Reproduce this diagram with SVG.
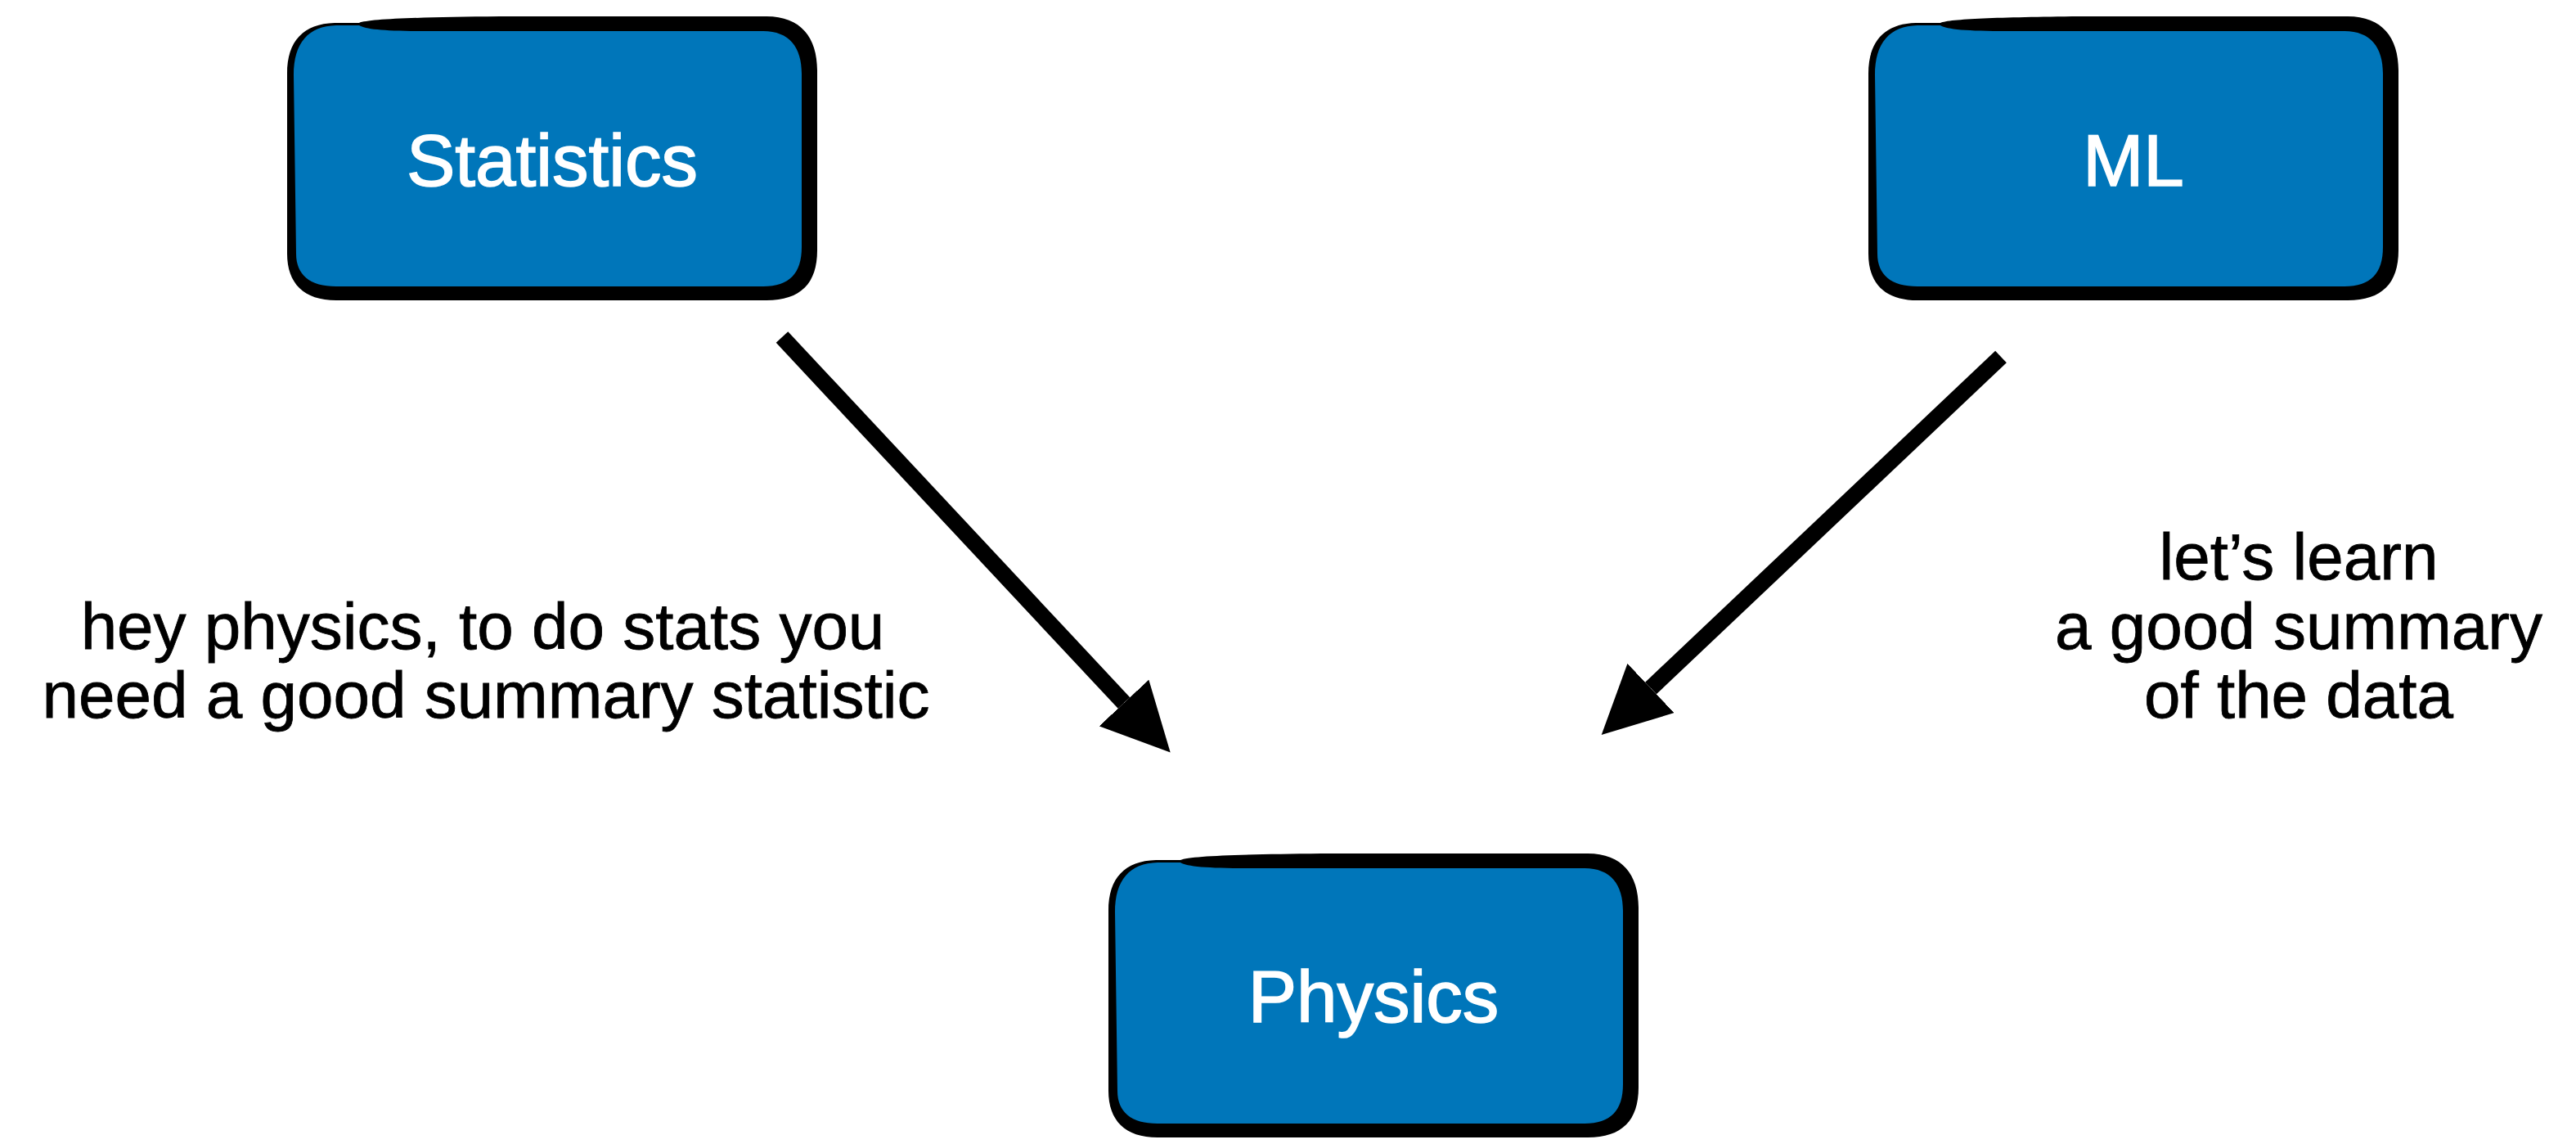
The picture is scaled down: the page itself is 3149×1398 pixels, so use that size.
<svg xmlns="http://www.w3.org/2000/svg" xmlns:xlink="http://www.w3.org/1999/xlink" width="3149" height="1398" viewBox="0 0 3149 1398">
  <style>
    .outline { fill: #000000; }
    .fill { fill: #0076BA; }
    .nodeText { font-family: "Liberation Sans", Arial, sans-serif; font-size: 89px; fill: #ffffff; stroke: #ffffff; stroke-width: 1.6; text-anchor: middle; }
    .label { font-family: "Liberation Sans", Arial, sans-serif; font-size: 80px; fill: #000000; stroke: #000000; stroke-width: 0.8; text-anchor: middle; }
    .edge { fill: none; stroke: #000000; stroke-width: 20; stroke-linecap: butt; marker-end: url(#head); }
  </style>
  <defs>
    <marker id="head" viewBox="0 0 83 83" refX="0" refY="41.5" markerWidth="83" markerHeight="83" markerUnits="userSpaceOnUse" orient="auto">
      <path d="M0,0 L83,41.5 L0,83 Z" fill="#000000"/>
    </marker>
    <g id="boxShape">
      <path class="outline" d="M 0,290 L 0,70 C 0,30 20,9 58,8 L 88,8 C 100,3 160,1 260,0 L 586,0 C 628,0 648,26 648,66 L 648,286 C 648,326 628,347 586,347 L 60,347 C 20,347 0,326 0,290 Z"/>
      <path class="fill" d="M 11,290 L 8,72 C 8,32 26,12 60,11 L 88,11 C 96,16 120,18 170,18 L 582,18 C 614,18 629,38 629,70 L 629,282 C 629,314 614,330 582,330 L 60,330 C 28,330 11,316 11,290 Z"/>
    </g>
  </defs>
  <rect width="3149" height="1398" fill="#ffffff"/>

  <g id="connectors">
    <path id="edge-statistics-physics" class="edge" d="M 956,412 L 1374,859"/>
    <path id="edge-ml-physics" class="edge" d="M 2446,436 L 2018,841"/>
  </g>

  <g id="node-statistics" transform="translate(351,20)">
    <use xlink:href="#boxShape" href="#boxShape"/>
    <text class="nodeText" x="324" y="207">Statistics</text>
  </g>
  <g id="node-ml" transform="translate(2284,20)">
    <use xlink:href="#boxShape" href="#boxShape"/>
    <text class="nodeText" x="324" y="207">ML</text>
  </g>
  <g id="node-physics" transform="translate(1355,1043)">
    <use xlink:href="#boxShape" href="#boxShape"/>
    <text class="nodeText" x="324" y="206">Physics</text>
  </g>

  <g id="label-statistics">
    <text class="label" x="590" y="793">hey physics, to do stats you</text>
    <text class="label" x="594" y="877">need a good summary statistic</text>
  </g>
  <g id="label-ml">
    <text class="label" x="2810" y="708">let’s learn</text>
    <text class="label" x="2810" y="793">a good summary</text>
    <text class="label" x="2810" y="877">of the data</text>
  </g>
</svg>
